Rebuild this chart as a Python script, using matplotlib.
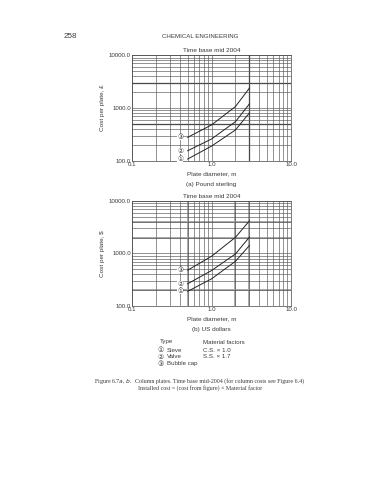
import numpy as np
import matplotlib.pyplot as plt
from matplotlib.ticker import FixedLocator, FixedFormatter, NullFormatter

# plate diameter, m
diameter = [0.5, 1.0, 2.0, 3.0]

# (a) Pound sterling
gbp_sieve = [108, 190, 384, 810]
gbp_valve = [155, 259, 552, 1200]
gbp_bubble = [278, 478, 1067, 2390]

# (b) US dollars
usd_sieve = [190, 329, 710, 1420]
usd_valve = [265, 473, 980, 2050]
usd_bubble = [480, 885, 2030, 4180]

curve_labels = ["①", "②", "③"]
xtick_vals = [0.1, 1.0, 10.0]
xtick_text = ["0.1", "1.0", "10.0"]
ytick_vals = [100, 1000, 10000]
ytick_text = ["100.0", "1000.0", "10000.0"]

TXT = "#3a3a3a"
SANS = ["Liberation Sans", "DejaVu Sans"]
SERIF = ["Liberation Serif", "DejaVu Serif"]
plt.rcParams['font.family'] = SANS


def log_panel(ax, series, ylabel, sublabel, heavy_x, heavy_y, heavy_col, heavy_lw):
    """
    One log-log cost panel with the dense chart-paper grid.
    """
    ax.set_xscale('log')
    ax.set_yscale('log')
    ax.set_xlim(0.1, 10)
    ax.set_ylim(100, 10000)
    ax.grid(which='both', color='#555555', lw=0.45)
    for xv in heavy_x:
        ax.axvline(xv, color=heavy_col, lw=heavy_lw, zorder=1)
    for yv in heavy_y:
        ax.axhline(yv, color=heavy_col, lw=heavy_lw, zorder=1)
    for vals, lab in zip(series, curve_labels):
        ax.plot(diameter, vals, color='#222222', lw=0.7, zorder=3)
        ax.text(0.405, vals[0], lab, fontsize=4.8, color=TXT,
                ha='center', va='center', zorder=4,
                family=["DejaVu Sans"],
                bbox=dict(boxstyle='square,pad=0', fc='white', ec='none'))
    ax.xaxis.set_major_locator(FixedLocator(xtick_vals))
    ax.xaxis.set_major_formatter(FixedFormatter(xtick_text))
    ax.xaxis.set_minor_formatter(NullFormatter())
    ax.yaxis.set_major_locator(FixedLocator(ytick_vals))
    ax.yaxis.set_major_formatter(FixedFormatter(ytick_text))
    ax.yaxis.set_minor_formatter(NullFormatter())
    ax.tick_params(which='both', length=0, labelsize=4.4, labelcolor=TXT, pad=1)
    for sp in ax.spines.values():
        sp.set_linewidth(0.5)
        sp.set_color('#444444')
    ax.set_title("Time base mid 2004", fontsize=4.6, color=TXT, pad=2)
    ax.set_xlabel("Plate diameter, m", fontsize=4.6, color=TXT, labelpad=3)
    ax.set_ylabel(ylabel, fontsize=4.6, color=TXT, labelpad=3)
    ax.text(0.5, -0.2, sublabel, transform=ax.transAxes, fontsize=4.6,
            color=TXT, ha='center', va='top')


fig = plt.figure(figsize=(3.67, 4.8), dpi=100)
ax1 = fig.add_axes([0.36, 0.665, 0.433, 0.22])
ax2 = fig.add_axes([0.36, 0.3625, 0.433, 0.219])

log_panel(ax1, [gbp_sieve, gbp_valve, gbp_bubble], "Cost per plate, £",
          "(a) Pound sterling", [3.0], [500, 3000], '#333333', 0.9)
log_panel(ax2, [usd_sieve, usd_valve, usd_bubble], "Cost per plate, $",
          "(b) US dollars", [0.5, 2.0, 3.0], [200, 2000, 4000], '#aaaaaa', 1.4)

# page header
fig.text(64 / 367, 1 - 37 / 480, "258", fontsize=5.8, color=TXT, va='center')
fig.text(200 / 367, 1 - 37 / 480, "CHEMICAL ENGINEERING", fontsize=4.4,
         color=TXT, ha='center', va='center')

# key
fig.text(160 / 367, 1 - 342 / 480, "Type", fontsize=4.4, color=TXT, va='center')
fig.text(203 / 367, 1 - 342 / 480, "Material factors", fontsize=4.4, color=TXT, va='center')
key_rows = [("①", "Sieve", "C.S. × 1.0"), ("②", "Valve", "S.S. × 1.7"),
            ("③", "Bubble cap", "")]
for i, (c, name, fac) in enumerate(key_rows):
    yy = 1 - (350 + 7 * i) / 480
    fig.text(157 / 367, yy, c, fontsize=5, color=TXT, va='center',
             family=["DejaVu Sans"])
    fig.text(167 / 367, yy, name, fontsize=4.4, color=TXT, va='center')
    fig.text(203 / 367, yy, fac, fontsize=4.4, color=TXT, va='center')

# caption
fig.text(94 / 367, 1 - 381 / 480, "Figure 6.7$a$, $b$.", fontsize=4.3,
         color=TXT, va='center', family=SERIF)
fig.text(135 / 367, 1 - 381 / 480,
         "Column plates. Time base mid-2004 (for column costs see Figure 6.4)",
         fontsize=4.3, color=TXT, va='center', family=SERIF)
fig.text(138 / 367, 1 - 388 / 480,
         "Installed cost = (cost from figure) × Material factor",
         fontsize=4.3, color=TXT, va='center', family=SERIF)

fig.savefig("out.png", dpi=100)
